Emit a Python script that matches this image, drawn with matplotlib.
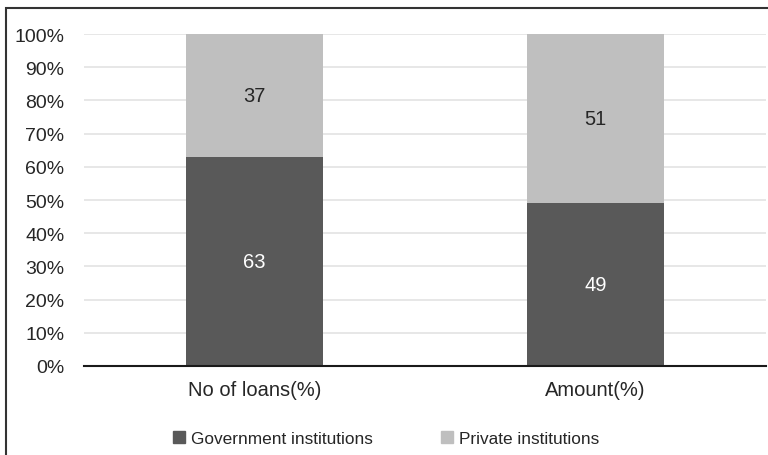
import matplotlib
matplotlib.use("Agg")
import matplotlib.pyplot as plt
from matplotlib.lines import Line2D
from matplotlib.patches import Rectangle

categories = ["No of loans(%)", "Amount(%)"]
government = [63, 49]
private = [37, 51]
yticks = [0, 10, 20, 30, 40, 50, 60, 70, 80, 90, 100]
series_names = ["Government institutions", "Private institutions"]

dark = "#595959"
light = "#bfbfbf"

plt.rcParams['font.family'] = ['Liberation Sans', 'DejaVu Sans']

fig = plt.figure(figsize=(7.68, 4.56), dpi=100)
ax = fig.add_axes([84/768, 1-367/456, 682/768, 332/456])

x = list(range(len(categories)))
ax.bar(x, government, width=0.4, color=dark, zorder=3)
ax.bar(x, private, width=0.4, bottom=government, color=light, zorder=3)

for i in x:
    ax.text(i, government[i]/2, f"{government[i]}", ha='center', va='center',
            color='white', fontsize=14.5, zorder=4)
    ax.text(i, government[i] + private[i]/2, f"{private[i]}", ha='center', va='center',
            color='#262626', fontsize=14.5, zorder=4)

ax.set_xlim(-0.5, 1.5)
ax.set_ylim(0, 100)
ax.set_yticks(yticks)
ax.set_yticklabels([f"{t}%" for t in yticks])
ax.set_xticks(x)
ax.set_xticklabels(categories)
ax.tick_params(axis='both', length=0, labelsize=14.5, colors='#262626')
ax.tick_params(axis='y', labelsize=14)
ax.tick_params(axis='x', pad=10)
ax.tick_params(axis='y', pad=14)
ax.yaxis.grid(True, color='#e3e3e3', linewidth=1.2, zorder=0)
for s in ['top', 'right', 'left']:
    ax.spines[s].set_visible(False)
ax.spines['bottom'].set_color('#1a1a1a')
ax.spines['bottom'].set_linewidth(1.5)
ax.spines['bottom'].set_zorder(5)

handles = [Line2D([], [], marker='s', linestyle='none', markersize=9, color=dark),
           Line2D([], [], marker='s', linestyle='none', markersize=9, color=light)]
fig.legend(handles, series_names, loc='center', bbox_to_anchor=(0.502, 1-439/456),
           ncol=2, frameon=False, fontsize=12.4, handlelength=0.8, handletextpad=0.3,
           columnspacing=3.9, labelcolor='#262626')

fig.patches.append(Rectangle((6/768, -0.1), 1.2, 1 - 9/456 + 0.1, transform=fig.transFigure,
                             fill=False, edgecolor='#333333', linewidth=1.5))

fig.savefig("out.png", dpi=100)
